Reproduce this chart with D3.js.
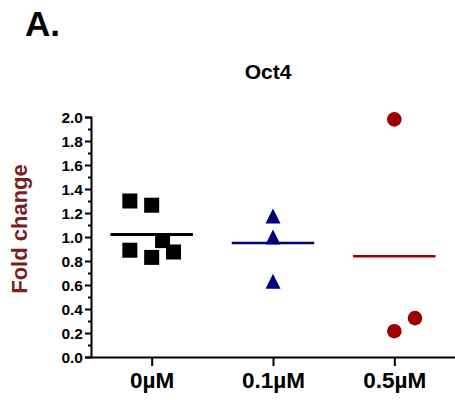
<!DOCTYPE html>
<html>
<head>
<meta charset="utf-8">
<script src="https://cdn.jsdelivr.net/npm/d3@7"></script>
<style>
  body { margin: 0; background: #fff; }
  svg text { font-family: "Liberation Sans", Arial, sans-serif; font-weight: bold; }
</style>
</head>
<body>
<div id="vis"></div>
<script>

var width = 455,
    height = 400;

// doses on the x axis
var categories = ["0\u00b5M", "0.1\u00b5M", "0.5\u00b5M"];

// fold change per replicate, with the horizontal spread of the points (in category units)
var dose0 = [1.30, 1.265, 0.89, 0.83, 0.97, 0.875],
    dose0Spread = [-0.18, 0, -0.18, 0, 0.09, 0.18];
var dose01 = [1.175, 1.0, 0.632],
    dose01Spread = [0, 0, 0];
var dose05 = [1.98, 0.215, 0.324],
    dose05Spread = [0, 0, 0.17];

// mean lines as drawn
var means = [1.02, 0.95, 0.84];

var yTicks = [0, 0.2, 0.4, 0.6, 0.8, 1.0, 1.2, 1.4, 1.6, 1.8, 2.0];

var colors = ["#000000", "#00007a", "#9c0000"];

var svg = d3.select("#vis").append("svg")
    .attr("width", width)
    .attr("height", height);

var x = d3.scaleLinear()
    .domain([-0.5, 2.5])
    .range([91, 455]);

var y = d3.scaleLinear()
    .domain([0, 2])
    .range([357, 117]);

// panel letter and title
svg.append("text")
    .attr("x", 25)
    .attr("y", 36)
    .style("font-size", "35px")
    .text("A.");

svg.append("text")
    .attr("x", 268)
    .attr("y", 79)
    .attr("text-anchor", "middle")
    .style("font-size", "21px")
    .text("Oct4");

// y axis: minor ticks first, then the labelled ones
svg.append("g")
    .attr("transform", "translate(91,0)")
    .call(d3.axisLeft(y).tickValues(d3.range(0.1, 2, 0.2)).tickSize(3).tickFormat(""))
    .call(function(g) { g.select(".domain").remove(); })
    .selectAll("line").attr("stroke-width", 2);

var yAxis = svg.append("g")
    .attr("transform", "translate(91,0)")
    .call(d3.axisLeft(y)
        .tickValues(yTicks)
        .tickSize(6)
        .tickSizeOuter(6)
        .tickPadding(2)
        .tickFormat(d3.format(".1f")));

yAxis.select(".domain").attr("stroke-width", 2);
yAxis.selectAll("line").attr("stroke-width", 2);
yAxis.selectAll("text")
    .attr("dy", "0.36em")
    .style("font-size", "15.5px")
    .style("font-family", "Liberation Sans, Arial, sans-serif")
    .attr("fill", "#000");

svg.append("text")
    .attr("transform", "translate(27,229)rotate(-90)")
    .attr("text-anchor", "middle")
    .attr("fill", "#7a1f1f")
    .style("font-size", "22px")
    .text("Fold change");

// x axis
var xAxis = svg.append("g")
    .attr("transform", "translate(0,357)")
    .call(d3.axisBottom(x)
        .tickValues([0, 1, 2])
        .tickSize(9)
        .tickSizeOuter(0)
        .tickPadding(6)
        .tickFormat(function(i) { return categories[i]; }));

xAxis.select(".domain").attr("stroke-width", 2);
xAxis.selectAll("line").attr("stroke-width", 2);
xAxis.selectAll("text")
    .attr("dy", "0.71em")
    .style("font-size", "22.5px")
    .style("font-family", "Liberation Sans, Arial, sans-serif")
    .attr("fill", "#000");

// points
function points(values, spread, group) {
    return values.map(function(v, i) {
        return { value: v, cx: group + spread[i] };
    });
}

svg.append("g").selectAll("rect")
    .data(points(dose0, dose0Spread, 0))
    .enter().append("rect")
    .attr("x", function(d) { return x(d.cx) - 7.5; })
    .attr("y", function(d) { return y(d.value) - 7.5; })
    .attr("width", 15)
    .attr("height", 15)
    .attr("fill", colors[0]);

svg.append("g").selectAll("path")
    .data(points(dose01, dose01Spread, 1))
    .enter().append("path")
    .attr("transform", function(d) { return "translate(" + x(d.cx) + "," + y(d.value) + ")"; })
    .attr("d", "M0,-7.5L7.5,7.5L-7.5,7.5Z")
    .attr("fill", colors[1]);

svg.append("g").selectAll("circle")
    .data(points(dose05, dose05Spread, 2))
    .enter().append("circle")
    .attr("cx", function(d) { return x(d.cx); })
    .attr("cy", function(d) { return y(d.value); })
    .attr("r", 7.3)
    .attr("fill", colors[2]);

// mean lines
svg.append("g").selectAll("line")
    .data(means)
    .enter().append("line")
    .attr("x1", function(d, i) { return x(i - 0.34); })
    .attr("x2", function(d, i) { return x(i + 0.34); })
    .attr("y1", function(d) { return y(d); })
    .attr("y2", function(d) { return y(d); })
    .attr("stroke", function(d, i) { return colors[i]; })
    .attr("stroke-width", function(d, i) { return i == 0 ? 3 : 2.6; });

</script>
</body>
</html>
